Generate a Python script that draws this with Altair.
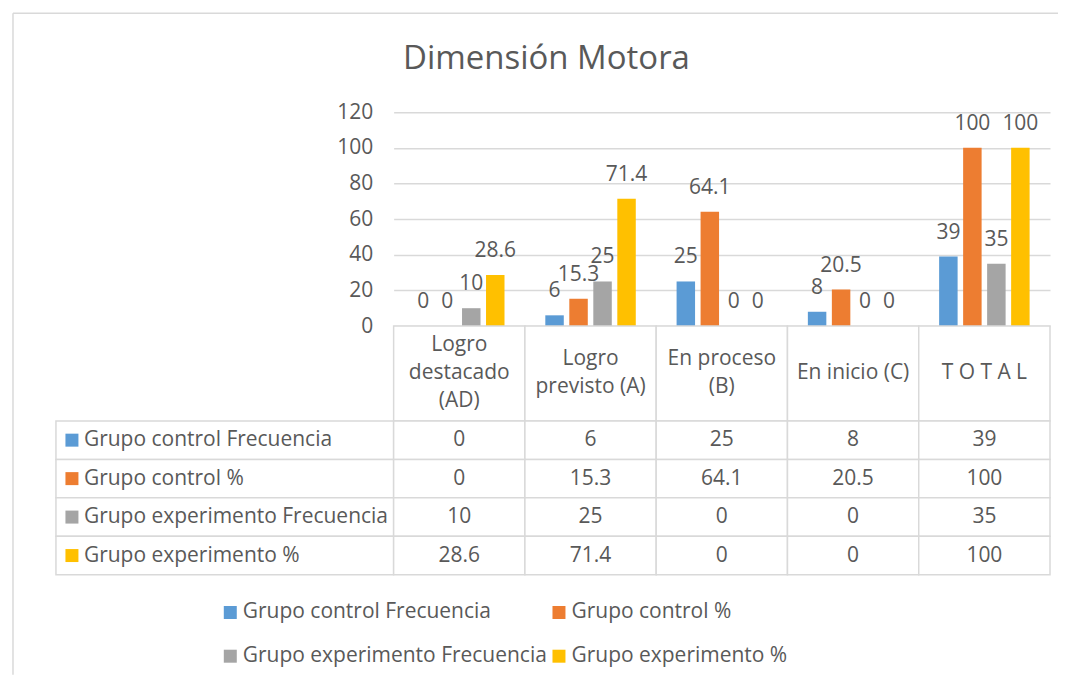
import altair as alt
import pandas as pd

title_text = "Dimensión Motora"
categories = ["Logro destacado (AD)", "Logro previsto (A)", "En proceso (B)", "En inicio (C)", "T O T A L"]
header_labels = ["Logro\ndestacado\n(AD)", "Logro\nprevisto (A)", "En proceso\n(B)", "En inicio (C)", "T O T A L"]
series = ["Grupo control Frecuencia", "Grupo control %", "Grupo experimento Frecuencia", "Grupo experimento %"]
control_freq = [0, 6, 25, 8, 39]
control_pct = [0, 15.3, 64.1, 20.5, 100]
exp_freq = [10, 25, 0, 0, 35]
exp_pct = [28.6, 71.4, 0, 0, 100]
colors = ["#5B9BD5", "#ED7D31", "#A5A5A5", "#FFC000"]
y_ticks = [0, 20, 40, 60, 80, 100, 120]

FONT = "Open Sans"
FS = 21
TXT = "#595959"
LINE = "#D9D9D9"

rows = []
for s, vals in zip(series, [control_freq, control_pct, exp_freq, exp_pct]):
    for c, v in zip(categories, vals):
        rows.append({"cat": c, "series": s, "value": v})
df = pd.DataFrame(rows)

xcat = alt.X("cat:N", sort=categories, axis=None,
             scale=alt.Scale(domain=categories, paddingInner=0, paddingOuter=0))
xoff = alt.XOffset("series:N", sort=series,
                   scale=alt.Scale(domain=series, paddingInner=0.23, paddingOuter=0.85))
color = alt.Color("series:N", sort=series,
                  scale=alt.Scale(domain=series, range=colors),
                  legend=alt.Legend(orient="none", legendX=-174, legendY=490, columns=2,
                                    direction="horizontal",
                                    title=None, symbolType="square", symbolSize=169,
                                    symbolStrokeWidth=0, labelFont=FONT, labelFontSize=FS,
                                    labelColor=TXT, labelLimit=500, columnPadding=1,
                                    rowPadding=22, labelOffset=2, padding=0))

W = 657
one = pd.DataFrame({"a": [0]})

yaxis = alt.Axis(values=y_ticks, domain=False, ticks=False, title=None,
                 labelOverlap=False, labelFlush=False,
                 labelPadding=21, labelFont=FONT, labelFontSize=FS,
                 labelColor=TXT, gridColor=LINE, gridWidth=1.5)
yscale = alt.Scale(domain=[0, 120], nice=False)

bars = alt.Chart(df).mark_bar().encode(
    x=xcat, xOffset=xoff,
    y=alt.Y("value:Q", scale=yscale, axis=yaxis),
    color=color,
)
bar_labels = alt.Chart(df).mark_text(dy=-24, font=FONT, fontSize=FS, color=TXT).encode(
    x=xcat, xOffset=xoff, y=alt.Y("value:Q", scale=yscale, axis=yaxis),
    text=alt.Text("value:Q", format="~g"),
)
title_mark = alt.Chart(pd.DataFrame({"t": [title_text]})).mark_text(
    font=FONT, fontSize=33, color=TXT, align="center", baseline="middle"
).encode(x=alt.value(153), y=alt.value(-53), text="t:N")
frame_top = alt.Chart(one).mark_rule(color=LINE, strokeWidth=1.5).encode(
    x=alt.value(-381), x2=alt.value(665), y=alt.value(-99))
frame_left = alt.Chart(one).mark_rule(color=LINE, strokeWidth=1.5).encode(
    x=alt.value(-381), y=alt.value(-99), y2=alt.value(563))

top = alt.layer(frame_top, frame_left, bars, bar_labels, title_mark).properties(width=W, height=214)

hdr_df = pd.DataFrame({"cat": categories, "label": header_labels})
hcells = alt.Chart(hdr_df).mark_rect(fill="white", stroke=LINE, strokeWidth=1.5).encode(x=xcat)
htext = alt.Chart(hdr_df).transform_calculate(
    ypos="47.5 - (length(split(datum.label, '\\n')) - 1) * 14"
).mark_text(lineBreak="\n", lineHeight=28, font=FONT, fontSize=FS,
            color=TXT, align="center", baseline="middle").encode(
    x=xcat, y=alt.Y("ypos:Q", scale=None, axis=None), text="label:N")
header = alt.layer(hcells, htext).properties(width=W, height=95)

yrow = alt.Y("series:N", sort=series, axis=None,
             scale=alt.Scale(domain=series, paddingInner=0, paddingOuter=0))
cells = alt.Chart(df).mark_rect(fill="white", stroke=LINE, strokeWidth=1.5).encode(x=xcat, y=yrow)
cell_txt = alt.Chart(df).mark_text(font=FONT, fontSize=FS, color=TXT).encode(
    x=xcat, y=yrow, text=alt.Text("value:Q", format="~g"))
rh_df = pd.DataFrame({"series": series})
rh_cells = alt.Chart(rh_df).mark_rect(fill="white", stroke=LINE, strokeWidth=1.5).encode(
    x=alt.value(-338), x2=alt.value(0), y=yrow)
rh_sq = alt.Chart(rh_df).mark_square(size=169, opacity=1, strokeWidth=0).encode(
    x=alt.value(-322), y=yrow, color=color)
rh_txt = alt.Chart(rh_df).mark_text(font=FONT, fontSize=FS, color=TXT, align="left").encode(
    x=alt.value(-310), y=yrow, text="series:N")
table = alt.layer(rh_cells, cells, cell_txt, rh_sq, rh_txt).properties(width=W, height=154)

chart = alt.vconcat(top, header, table, spacing=0, bounds="flush").properties(
    padding={"left": 4, "top": 4, "right": 0, "bottom": 0}
).configure_view(stroke=None)

chart.save("out.html", embed_options={"renderer": "svg", "actions": False})
